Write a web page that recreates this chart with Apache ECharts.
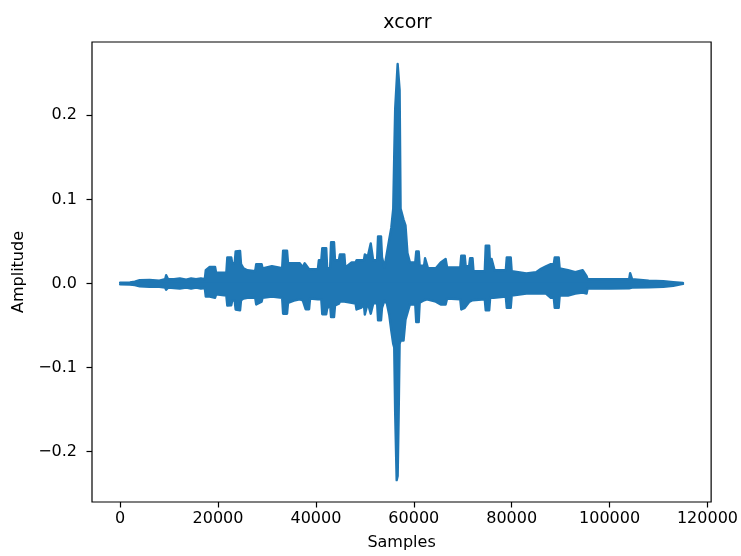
<!DOCTYPE html>
<html>
<head>
<meta charset="utf-8">
<title>xcorr</title>
<script src="https://cdn.jsdelivr.net/npm/echarts/dist/echarts.min.js"></script>
<style>
  html, body { margin: 0; padding: 0; background: #fff; }
  #chart { width: 741px; height: 556px; }
</style>
</head>
<body>
<div id="chart"></div>
<script>
// Lag positions (samples) where the cross-correlation envelope changes shape
const lags = [0, 2000, 3000, 4000, 6000, 8000, 9200, 9400, 9600, 9800, 11000, 12200, 13500, 14500, 15500, 16500,
  17300, 17500, 18300, 19400, 19600, 21700, 21900, 22700, 22900, 23400, 23600, 24500, 24700, 25200, 26000, 27600,
  27800, 28900, 29100, 31000, 33100, 33300, 34100, 34300, 35500, 36700, 37300, 37700, 37900, 38600, 38800, 40400,
  40600, 41100, 41300, 42100, 42300, 42900, 43100, 43700, 43900, 44700, 44900, 45800, 46000, 47300, 48100, 48300,
  49300, 49800, 50000, 50400, 50600, 51000, 51200, 51500, 51700, 52500, 52700, 53300, 53500, 54000, 54500, 55000,
  55400, 55800, 56000, 56200, 56500, 56700, 56900, 57100, 57300, 57900, 58300, 58700, 59200, 60300, 60500, 61000,
  61200, 62100, 62300, 62700, 62900, 64500, 65500, 66500, 66800, 69500, 69700, 70400, 70600, 71300, 71500, 72000,
  72200, 74500, 74700, 75400, 75600, 75900, 76300, 76500, 78800, 79000, 79800, 80000, 83000, 85000, 86000, 87000,
  88000, 88600, 88800, 89600, 89800, 91500, 93000, 94500, 95300, 95500, 100000, 104000, 104200, 104400, 104600, 108000,
  111000, 113000, 115000];

// Positive peaks of the correlation at each lag
const upper = [0.001, 0.0012, 0.002, 0.0039, 0.004, 0.0033, 0.005, 0.0098, 0.0098, 0.005, 0.005, 0.006, 0.0045, 0.006, 0.005, 0.006,
  0.005, 0.0157, 0.0196, 0.0196, 0.0127, 0.013, 0.031, 0.031, 0.024, 0.024, 0.038, 0.0387, 0.023, 0.018, 0.0157, 0.0145,
  0.023, 0.023, 0.018, 0.0204, 0.018, 0.039, 0.039, 0.024, 0.024, 0.024, 0.0192, 0.024, 0.024, 0.0169, 0.017, 0.017,
  0.0275, 0.0275, 0.042, 0.042, 0.018, 0.018, 0.049, 0.049, 0.0275, 0.0275, 0.0346, 0.0346, 0.019, 0.025, 0.025, 0.0275,
  0.0275, 0.0275, 0.0346, 0.0346, 0.032, 0.032, 0.0475, 0.0475, 0.0275, 0.0275, 0.056, 0.056, 0.031, 0.019, 0.036, 0.053,
  0.066, 0.089, 0.151, 0.208, 0.208, 0.261, 0.261, 0.230, 0.089, 0.076, 0.069, 0.036, 0.025, 0.025, 0.038, 0.038,
  0.021, 0.021, 0.0299, 0.0299, 0.018, 0.018, 0.025, 0.029, 0.019, 0.019, 0.033, 0.033, 0.0204, 0.0204, 0.0299, 0.0299,
  0.0145, 0.0145, 0.045, 0.045, 0.019, 0.029, 0.029, 0.0157, 0.0157, 0.031, 0.031, 0.0145, 0.012, 0.0133, 0.0175, 0.0204,
  0.023, 0.023, 0.031, 0.031, 0.018, 0.0157, 0.0133, 0.0157, 0.0086, 0.005, 0.005, 0.005, 0.0122, 0.0122, 0.005, 0.0033,
  0.0027, 0.0015, 0.0005];

// Negative peaks of the correlation at each lag
const lower = [-0.001, -0.0012, -0.002, -0.0033, -0.004, -0.004, -0.005, -0.0075, -0.0075, -0.005, -0.0055, -0.006, -0.005, -0.0062, -0.005, -0.006,
  -0.0055, -0.0157, -0.0157, -0.017, -0.013, -0.0145, -0.0263, -0.026, -0.0204, -0.0204, -0.031, -0.032, -0.020, -0.018, -0.017, -0.017,
  -0.025, -0.0216, -0.017, -0.0157, -0.017, -0.036, -0.036, -0.023, -0.0204, -0.019, -0.02, -0.022, -0.0307, -0.0307, -0.018, -0.019,
  -0.019, -0.019, -0.0366, -0.0366, -0.030, -0.025, -0.040, -0.040, -0.0263, -0.024, -0.0216, -0.0216, -0.0216, -0.023, -0.024, -0.031,
  -0.0287, -0.025, -0.037, -0.037, -0.023, -0.023, -0.036, -0.036, -0.024, -0.023, -0.044, -0.044, -0.029, -0.0204, -0.024, -0.038,
  -0.056, -0.072, -0.076, -0.155, -0.234, -0.229, -0.158, -0.072, -0.068, -0.068, -0.043, -0.035, -0.025, -0.025, -0.046, -0.046,
  -0.023, -0.02, -0.019, -0.019, -0.019, -0.0216, -0.025, -0.025, -0.018, -0.019, -0.031, -0.029, -0.029, -0.022, -0.020, -0.020,
  -0.019, -0.019, -0.032, -0.032, -0.017, -0.017, -0.017, -0.0157, -0.0157, -0.029, -0.029, -0.0145, -0.012, -0.012, -0.012, -0.012,
  -0.017, -0.017, -0.029, -0.029, -0.0145, -0.0145, -0.012, -0.011, -0.012, -0.006, -0.006, -0.0057, -0.006, -0.006, -0.005, -0.0045,
  -0.004, -0.0027, -0.0005];

const xTicks = [0, 20000, 40000, 60000, 80000, 100000, 120000];
const yTicks = [-0.2, -0.1, 0.0, 0.1, 0.2];

const BLUE = '#1f77b4';
const FONT = 'DejaVu Sans';

const chart = echarts.init(document.getElementById('chart'), null, { renderer: 'canvas' });

// One filled trace per side of the signal; each fill runs slightly past the
// zero line so the two halves overlap instead of leaving a hairline gap
function band(values, origin) {
  return {
    type: 'line',
    data: lags.map((x, i) => [x, values[i]]),
    showSymbol: false,
    symbol: 'none',
    smooth: false,
    sampling: null,
    lineStyle: { color: BLUE, width: 2.4, cap: 'round', join: 'round' },
    areaStyle: { color: BLUE, opacity: 1, origin: origin },
    emphasis: { disabled: true },
    silent: true
  };
}

const tickStyle = { color: '#000', width: 1.2 };

chart.setOption({
  animation: false,
  backgroundColor: '#fff',
  title: {
    text: 'xcorr',
    left: 402.5,
    top: 9,
    textAlign: 'center',
    textStyle: { fontFamily: FONT, fontSize: 19, fontWeight: 'normal', color: '#000' }
  },
  grid: {
    left: 92, right: 28, top: 42, bottom: 51,
    show: true, borderColor: '#000', borderWidth: 1.2, backgroundColor: 'transparent'
  },
  xAxis: {
    type: 'value',
    min: -5750,
    max: 120750,
    name: 'Samples',
    nameLocation: 'middle',
    nameGap: 33,
    nameTextStyle: { fontFamily: FONT, fontSize: 16, color: '#000' },
    axisLine: { show: false, onZero: false },
    splitLine: { show: false },
    axisTick: { show: true, customValues: xTicks, length: 5.5, inside: false, lineStyle: tickStyle },
    axisLabel: {
      customValues: xTicks,
      margin: 9,
      fontFamily: FONT, fontSize: 16, color: '#000',
      formatter: v => String(v)
    }
  },
  yAxis: {
    type: 'value',
    min: -0.260,
    max: 0.2872,
    name: 'Amplitude',
    nameLocation: 'middle',
    nameGap: 65,
    nameRotate: 90,
    nameTextStyle: { fontFamily: FONT, fontSize: 16, color: '#000' },
    axisLine: { show: false, onZero: false },
    splitLine: { show: false },
    axisTick: { show: true, customValues: yTicks, length: 5.5, inside: false, lineStyle: tickStyle },
    axisLabel: {
      customValues: yTicks,
      margin: 15,
      fontFamily: FONT, fontSize: 16, color: '#000',
      formatter: v => v.toFixed(1).replace('-', '\u2212')
    }
  },
  series: [band(upper, -0.001), band(lower, 0.001)]
});
</script>
</body>
</html>
